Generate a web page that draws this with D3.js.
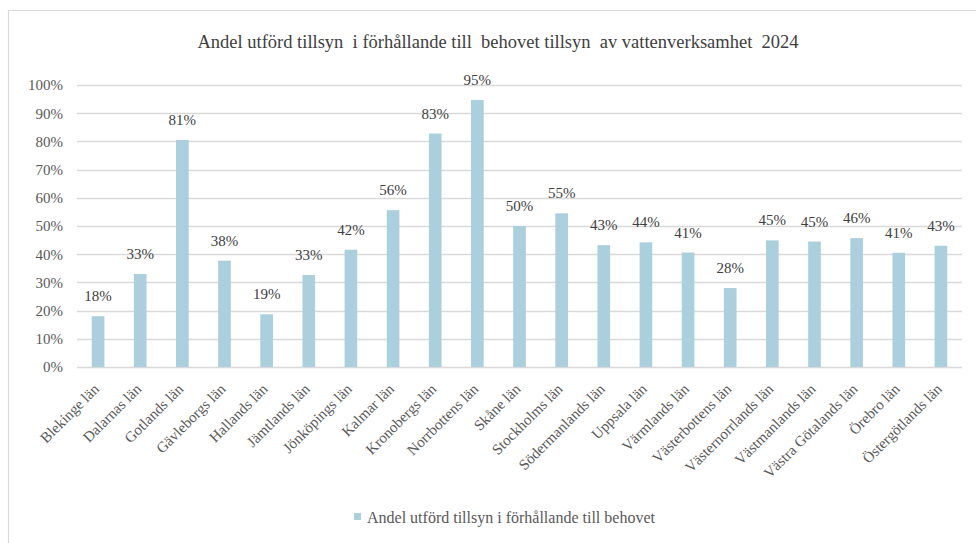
<!DOCTYPE html>
<html><head><meta charset="utf-8">
<script src="https://cdn.jsdelivr.net/npm/d3@7"></script>
<style>
html,body{margin:0;padding:0;background:#fff;}
svg{display:block;}
</style></head>
<body>
<svg id="chart" width="976" height="543"></svg>
<script>
const title = "Andel utförd tillsyn  i förhållande till  behovet tillsyn  av vattenverksamhet  2024";
const seriesName = "Andel utförd tillsyn i förhållande till behovet";
const categories = ["Blekinge län","Dalarnas län","Gotlands län","Gävleborgs län","Hallands län","Jämtlands län","Jönköpings län","Kalmar län","Kronobergs län","Norrbottens län","Skåne län","Stockholms län","Södermanlands län","Uppsala län","Värmlands län","Västerbottens län","Västernorrlands län","Västmanlands län","Västra Götalands län","Örebro län","Östergötlands län"];
const values = [0.18,0.33,0.805,0.377,0.187,0.326,0.416,0.556,0.828,0.947,0.50,0.545,0.432,0.442,0.406,0.28,0.449,0.445,0.457,0.405,0.43];
const labels = ["18%","33%","81%","38%","19%","33%","42%","56%","83%","95%","50%","55%","43%","44%","41%","28%","45%","45%","46%","41%","43%"];
const yTicks = [0,0.1,0.2,0.3,0.4,0.5,0.6,0.7,0.8,0.9,1.0];

const FONT = "Liberation Serif";
const svg = d3.select("#chart").style("font-family", FONT);
const W = 976, H = 543;
const m = {left:77, right:14, top:85, bottom:176};
const x = d3.scaleBand().domain(categories).range([m.left, W - m.right]).paddingInner(0.7).paddingOuter(0.35);
const y = d3.scaleLinear().domain([0,1]).range([H - m.bottom, m.top]);

// frame
svg.append("path").attr("d", `M8.5,${H} V10.5 H${W}`).attr("fill","none").attr("stroke","#d9d9d9").attr("stroke-width",1.2);

// title
svg.append("text").attr("x", 498).attr("y", 48).attr("text-anchor","middle")
  .style("font-family", FONT).style("white-space","pre")
  .attr("font-size", 18.5).attr("fill","#404040").text(title);

// gridlines
svg.append("g").selectAll("line").data(yTicks).join("line")
  .attr("x1", m.left).attr("x2", W - m.right)
  .attr("y1", d => Math.round(y(d)) + 0.5).attr("y2", d => Math.round(y(d)) + 0.5)
  .attr("stroke", "#d9d9d9").attr("stroke-width", 1.3);

// y axis
const yAxis = svg.append("g").attr("transform", `translate(${m.left},0)`)
  .call(d3.axisLeft(y).tickValues(yTicks).tickFormat(d3.format(".0%")).tickSize(0).tickPadding(14));
yAxis.select(".domain").remove();
yAxis.attr("font-family", null);
yAxis.selectAll("text").attr("font-size", 15).attr("fill","#595959").style("font-family", FONT);

// x axis
const xAxis = svg.append("g").attr("transform", `translate(0,${y(0)})`)
  .call(d3.axisBottom(x).tickSize(0).tickPadding(0));
xAxis.select(".domain").remove();
xAxis.attr("font-family", null);
xAxis.selectAll("text").attr("font-size", 15).attr("fill","#595959").style("font-family", FONT)
  .attr("text-anchor","end").attr("dy", 0).attr("dx", 0)
  .attr("transform", "translate(2,23) rotate(-45)");

// bars
const g = svg.append("g");
g.selectAll("rect").data(values).join("rect")
  .attr("x", (d,i) => x(categories[i])).attr("width", x.bandwidth())
  .attr("y", d => y(d)).attr("height", d => y(0) - y(d))
  .attr("fill", "#abcfdc");

// data labels
g.selectAll("text").data(values).join("text")
  .attr("x", (d,i) => x(categories[i]) + x.bandwidth()/2)
  .attr("y", d => y(d) - 15)
  .attr("text-anchor","middle").attr("font-size", 15).attr("fill","#404040")
  .style("font-family", FONT)
  .text((d,i) => labels[i]);

// legend
const lg = svg.append("g").attr("transform", "translate(354,513)");
lg.append("rect").attr("width", 7).attr("height", 7).attr("fill", "#abcfdc");
lg.append("text").attr("x", 13).attr("y", 10).attr("font-size", 16).attr("fill","#595959")
  .style("font-family", FONT).text(seriesName);
</script>
</body></html>
